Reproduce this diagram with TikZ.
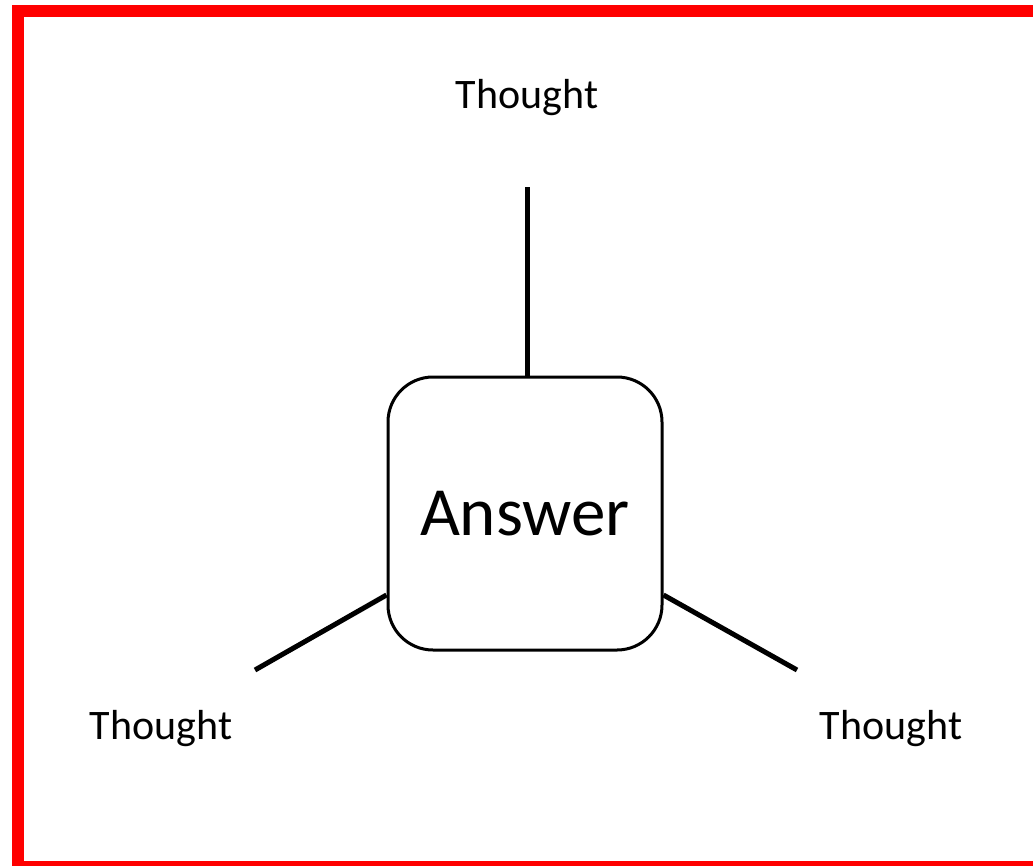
\documentclass[tikz,border=0pt]{standalone}
\usepackage{fontspec}
\setmainfont{Carlito}
\begin{document}
\begin{tikzpicture}[x=1pt,y=-1pt,
  answerbox/.style={draw, line width=3pt, rounded corners=45pt, minimum width=274pt, minimum height=273pt, inner sep=0pt, font=\fontsize{69}{80}\selectfont},
  thought/.style={font=\fontsize{42}{50}\selectfont, inner sep=0pt},
  conn/.style={line width=5pt}]
\useasboundingbox (0,0) rectangle (1033,865);
\draw[red, line width=12pt] (18,11) rectangle (1045,867);
\node[answerbox] (ans) at (525,513.5) {\raisebox{-2pt}{Answer}};
\node[thought] (tt) at (527,98) {Thought};
\node[thought] (tl) at (161,729) {Thought};
\node[thought] (tr) at (891,729) {Thought};
\coordinate (ct) at (527,187);
\coordinate (cl) at (255,670);
\coordinate (cr) at (797,670);
\draw[conn] (ct) -- (ct |- ans.north);
\draw[conn] (cl) -- ([yshift=-81.5pt]ans.west);
\draw[conn] (cr) -- ([yshift=-81.5pt]ans.east);
\end{tikzpicture}
\end{document}
